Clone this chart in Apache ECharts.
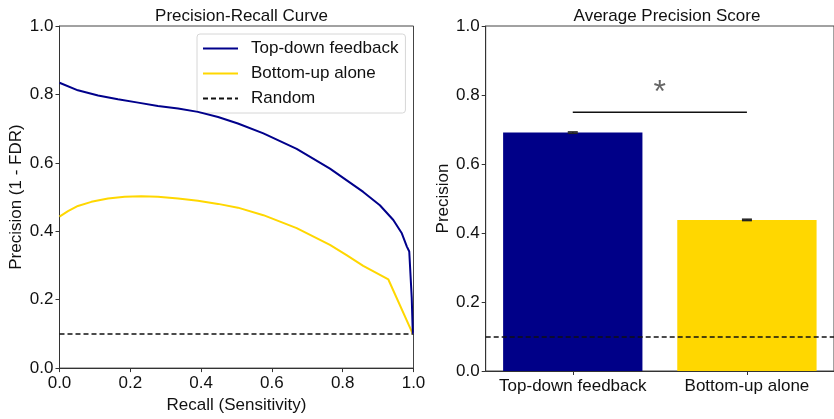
<!DOCTYPE html>
<html lang="en">
<head>
    <meta charset="UTF-8">
    <title>Precision-Recall</title>
    <script src="https://cdn.jsdelivr.net/npm/echarts@6/dist/echarts.min.js"></script>
    <style>
        body { margin: 0; padding: 0; background: #fff; }
        #chart { width: 834px; height: 419px; }
    </style>
</head>
<body>
    <div id="chart"></div>
    <script>
        // left panel: precision-recall curves
        const recallTopDown = [0, 0.052, 0.109, 0.165, 0.222, 0.278, 0.335, 0.391, 0.448, 0.504, 0.576, 0.67, 0.764, 0.858, 0.905, 0.943, 0.967, 0.981, 0.988, 0.995, 0.998];
        const precisionTopDown = [0.834, 0.812, 0.797, 0.786, 0.776, 0.766, 0.759, 0.749, 0.734, 0.715, 0.686, 0.641, 0.583, 0.515, 0.476, 0.433, 0.394, 0.356, 0.341, 0.206, 0.1];
        const recallBottomUp = [0, 0.024, 0.052, 0.09, 0.137, 0.184, 0.231, 0.278, 0.335, 0.391, 0.448, 0.504, 0.576, 0.67, 0.764, 0.811, 0.858, 0.929, 0.998];
        const precisionBottomUp = [0.443, 0.459, 0.474, 0.486, 0.496, 0.501, 0.502, 0.501, 0.496, 0.489, 0.480, 0.469, 0.447, 0.409, 0.360, 0.330, 0.299, 0.259, 0.1];
        const randomLevel = 0.1;

        // right panel: average precision
        const groups = ['Top-down feedback', 'Bottom-up alone'];
        const avgPrecision = [0.691, 0.438];
        const avgError = [0.002, 0.002];
        const sigLevel = 0.75;
        const yTicks = [0, 0.2, 0.4, 0.6, 0.8, 1.0];

        const navy = '#00008B';
        const gold = '#FFD700';
        const font = '"Liberation Sans", Arial, sans-serif';
        const fs = 17;

        const zip = (a, b) => a.map((v, i) => [v, b[i]]);

        const chart = echarts.init(document.getElementById('chart'));

        const axisCommon = {
            axisLine: { show: true, lineStyle: { color: '#333', width: 1 } },
            axisTick: { show: true, length: 4, lineStyle: { color: '#333' } },
            splitLine: { show: false },
            axisLabel: { color: '#111', fontSize: fs, fontFamily: font },
            nameTextStyle: { color: '#111', fontSize: fs, fontFamily: font }
        };

        chart.setOption({
            animation: false,
            textStyle: { fontFamily: font },
            title: [
                { text: 'Precision-Recall Curve', left: 236.5, top: 3, textAlign: 'center',
                  textStyle: { fontSize: fs, fontWeight: 'normal', color: '#111', fontFamily: font } },
                { text: 'Average Precision Score', left: 662, top: 3, textAlign: 'center',
                  textStyle: { fontSize: fs, fontWeight: 'normal', color: '#111', fontFamily: font } }
            ],
            legend: {
                data: ['Top-down feedback', 'Bottom-up alone', 'Random'],
                orient: 'vertical',
                left: 197, top: 34,
                padding: [6, 7, 6, 5],
                itemGap: 8,
                itemWidth: 35, itemHeight: 14,
                itemStyle: { opacity: 0 },
                backgroundColor: 'rgba(255,255,255,0.8)',
                borderColor: '#d6d6d6', borderWidth: 1, borderRadius: 3,
                textStyle: { fontSize: fs, color: '#111', fontFamily: font, padding: [0, 0, 0, 8] }
            },
            grid: [
                { left: 59.5, top: 26, width: 354, height: 345, show: true, borderColor: '#444', borderWidth: 1 },
                { left: 485.7, top: 26, width: 354, height: 345, show: true, borderColor: '#444', borderWidth: 1 }
            ],
            xAxis: [
                Object.assign({}, axisCommon, {
                    gridIndex: 0, type: 'value', min: 0, max: 1, interval: 0.2,
                    name: 'Recall (Sensitivity)', nameLocation: 'middle', nameGap: 27,
                    axisLabel: Object.assign({}, axisCommon.axisLabel, { margin: 7, formatter: v => v.toFixed(1) })
                }),
                Object.assign({}, axisCommon, {
                    gridIndex: 1, type: 'category', data: groups,
                    axisTick: { show: true, length: 4, alignWithLabel: true, lineStyle: { color: '#333' } },
                    axisLabel: Object.assign({}, axisCommon.axisLabel, { margin: 7, interval: 0 })
                })
            ],
            yAxis: [
                Object.assign({}, axisCommon, {
                    gridIndex: 0, type: 'value', min: yTicks[0], max: yTicks[yTicks.length - 1], interval: 0.2,
                    name: 'Precision (1 - FDR)', nameLocation: 'middle', nameGap: 35,
                    axisLabel: Object.assign({}, axisCommon.axisLabel, { margin: 6, formatter: v => v.toFixed(1) })
                }),
                Object.assign({}, axisCommon, {
                    gridIndex: 1, type: 'value', min: yTicks[0], max: yTicks[yTicks.length - 1], interval: 0.2,
                    name: 'Precision', nameLocation: 'middle', nameGap: 30,
                    axisLabel: Object.assign({}, axisCommon.axisLabel, { margin: 6, formatter: v => v.toFixed(1) })
                })
            ],
            series: [
                {
                    name: 'Top-down feedback', type: 'line', xAxisIndex: 0, yAxisIndex: 0,
                    data: zip(recallTopDown, precisionTopDown), symbol: 'none',
                    itemStyle: { color: navy }, lineStyle: { color: navy, width: 2 }, z: 4
                },
                {
                    name: 'Bottom-up alone', type: 'line', xAxisIndex: 0, yAxisIndex: 0,
                    data: zip(recallBottomUp, precisionBottomUp), symbol: 'none',
                    itemStyle: { color: gold }, lineStyle: { color: gold, width: 2 }, z: 3
                },
                {
                    name: 'Random', type: 'line', xAxisIndex: 0, yAxisIndex: 0,
                    data: [[0, randomLevel], [1, randomLevel]], symbol: 'none',
                    itemStyle: { color: '#111' }, lineStyle: { color: '#111', width: 1.5, type: [5, 3] }, z: 2
                },
                {
                    type: 'bar', xAxisIndex: 1, yAxisIndex: 1, barWidth: '80%',
                    data: avgPrecision.map((v, i) => ({ value: v, itemStyle: { color: i === 0 ? '#000088' : gold } })),
                    markLine: {
                        silent: true, symbol: 'none', label: { show: false },
                        lineStyle: { color: '#111', width: 1.5, type: [5, 3] },
                        data: [{ yAxis: randomLevel }]
                    }
                },
                {
                    type: 'custom', xAxisIndex: 1, yAxisIndex: 1, z: 5,
                    data: avgPrecision.map((v, i) => [i, v - avgError[i], v + avgError[i]]),
                    renderItem: (params, api) => {
                        const lo = api.coord([api.value(0), api.value(1)]);
                        const hi = api.coord([api.value(0), api.value(2)]);
                        const st = { stroke: '#222', lineWidth: 1.5 };
                        return { type: 'group', children: [
                            { type: 'line', shape: { x1: lo[0], y1: lo[1], x2: hi[0], y2: hi[1] }, style: st },
                            { type: 'line', shape: { x1: lo[0] - 5, y1: lo[1], x2: lo[0] + 5, y2: lo[1] }, style: st },
                            { type: 'line', shape: { x1: hi[0] - 5, y1: hi[1], x2: hi[0] + 5, y2: hi[1] }, style: st }
                        ] };
                    }
                },
                {
                    type: 'custom', xAxisIndex: 1, yAxisIndex: 1, z: 5,
                    data: [[0, 1, sigLevel]],
                    renderItem: (params, api) => {
                        const a = api.coord([api.value(0), api.value(2)]);
                        const b = api.coord([api.value(1), api.value(2)]);
                        return { type: 'group', children: [
                            { type: 'line', shape: { x1: a[0], y1: a[1], x2: b[0], y2: b[1] },
                              style: { stroke: '#111', lineWidth: 1.5 } },
                            { type: 'text', x: (a[0] + b[0]) / 2, y: a[1] - 3,
                              style: { text: '*', fill: '#666', fontSize: 32, fontFamily: font,
                                       align: 'center', verticalAlign: 'bottom' } }
                        ] };
                    }
                }
            ]
        });
    </script>
</body>
</html>
